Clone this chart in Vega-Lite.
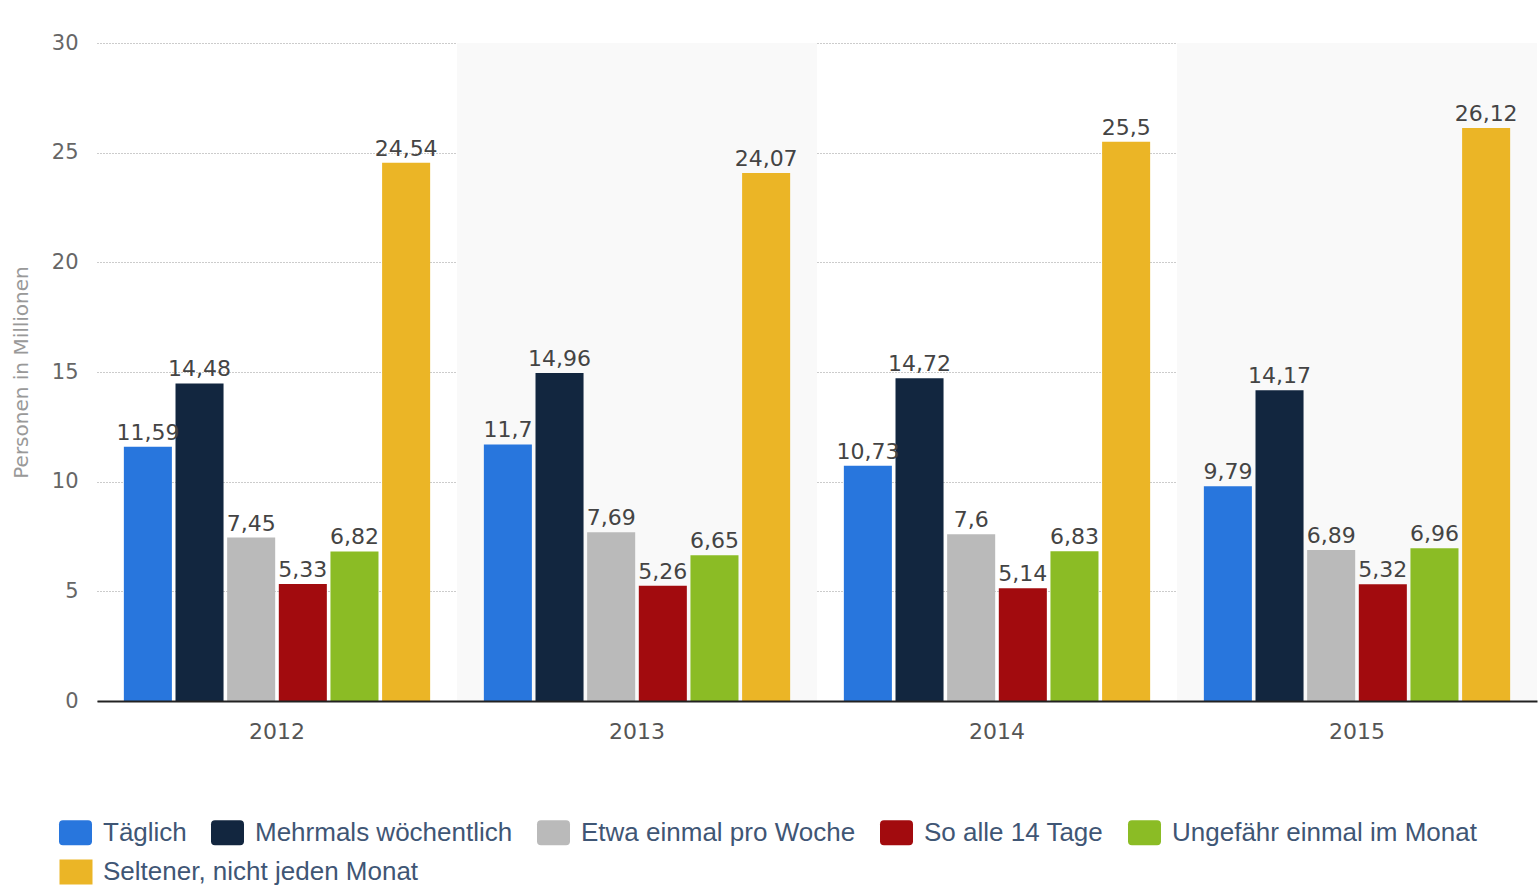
{
  "$schema": "https://vega.github.io/schema/vega-lite/v6.json",
  "width": 1440,
  "height": 658,
  "autosize": {"type": "none"},
  "padding": {"left": 97, "top": 43, "right": 3, "bottom": 185},
  "background": "#ffffff",
  "config": {
    "view": {"stroke": null},
    "font": "DejaVu Sans",
    "legend": {
      "title": null,
      "orient": "none",
      "legendX": -38,
      "direction": "horizontal",
      "columnPadding": 24,
      "symbolType": "M-0.76,-0.76 L0.76,-0.76 Q1,-0.76 1,-0.52 L1,0.52 Q1,0.76 0.76,0.76 L-0.76,0.76 Q-1,0.76 -1,0.52 L-1,-0.52 Q-1,-0.76 -0.76,-0.76 Z",
      "symbolSize": 1089,
      "symbolStrokeWidth": 0,
      "symbolOpacity": 1,
      "labelFont": "Liberation Sans",
      "labelFontSize": 26,
      "labelColor": "#3f5675",
      "labelOffset": 11,
      "labelLimit": 500
    },
    "locale": {
      "number": {"decimal": ",", "thousands": ".", "grouping": [3], "currency": ["", " €"]}
    }
  },
  "datasets": {
    "main": [
      {"year": "2012", "kategorie": "Täglich", "wert": 11.59},
      {"year": "2012", "kategorie": "Mehrmals wöchentlich", "wert": 14.48},
      {"year": "2012", "kategorie": "Etwa einmal pro Woche", "wert": 7.45},
      {"year": "2012", "kategorie": "So alle 14 Tage", "wert": 5.33},
      {"year": "2012", "kategorie": "Ungefähr einmal im Monat", "wert": 6.82},
      {"year": "2012", "kategorie": "Seltener, nicht jeden Monat", "wert": 24.54},
      {"year": "2013", "kategorie": "Täglich", "wert": 11.7},
      {"year": "2013", "kategorie": "Mehrmals wöchentlich", "wert": 14.96},
      {"year": "2013", "kategorie": "Etwa einmal pro Woche", "wert": 7.69},
      {"year": "2013", "kategorie": "So alle 14 Tage", "wert": 5.26},
      {"year": "2013", "kategorie": "Ungefähr einmal im Monat", "wert": 6.65},
      {"year": "2013", "kategorie": "Seltener, nicht jeden Monat", "wert": 24.07},
      {"year": "2014", "kategorie": "Täglich", "wert": 10.73},
      {"year": "2014", "kategorie": "Mehrmals wöchentlich", "wert": 14.72},
      {"year": "2014", "kategorie": "Etwa einmal pro Woche", "wert": 7.6},
      {"year": "2014", "kategorie": "So alle 14 Tage", "wert": 5.14},
      {"year": "2014", "kategorie": "Ungefähr einmal im Monat", "wert": 6.83},
      {"year": "2014", "kategorie": "Seltener, nicht jeden Monat", "wert": 25.5},
      {"year": "2015", "kategorie": "Täglich", "wert": 9.79},
      {"year": "2015", "kategorie": "Mehrmals wöchentlich", "wert": 14.17},
      {"year": "2015", "kategorie": "Etwa einmal pro Woche", "wert": 6.89},
      {"year": "2015", "kategorie": "So alle 14 Tage", "wert": 5.32},
      {"year": "2015", "kategorie": "Ungefähr einmal im Monat", "wert": 6.96},
      {"year": "2015", "kategorie": "Seltener, nicht jeden Monat", "wert": 26.12}
    ],
    "bands": [{"year": "2013"}, {"year": "2015"}]
  },
  "encoding": {
    "x": {
      "field": "year",
      "type": "nominal",
      "scale": {"domain": ["2012", "2013", "2014", "2015"], "paddingInner": 0, "paddingOuter": 0},
      "axis": {
        "title": null,
        "labelAngle": 0,
        "labelFontSize": 22,
        "labelColor": "#555555",
        "labelPadding": 20,
        "ticks": false,
        "domainColor": "#222222",
        "domainWidth": 2,
        "grid": false
      }
    }
  },
  "layer": [
    {
      "data": {"name": "bands"},
      "mark": {"type": "rect", "color": "#f9f9f9"}
    },
    {
      "data": {"name": "main"},
      "mark": {"type": "bar"},
      "encoding": {
        "xOffset": {
          "field": "kategorie",
          "type": "nominal",
          "sort": ["Täglich", "Mehrmals wöchentlich", "Etwa einmal pro Woche", "So alle 14 Tage", "Ungefähr einmal im Monat", "Seltener, nicht jeden Monat"],
          "scale": {"paddingInner": 0.07, "paddingOuter": 0.52}
        },
        "y": {
          "field": "wert",
          "type": "quantitative",
          "scale": {"domain": [0, 30], "nice": false},
          "axis": {
            "title": "Personen in Millionen",
            "titleFontSize": 20,
            "titleFontWeight": "normal",
            "titleColor": "#999999",
            "titlePadding": 20,
            "values": [0, 5, 10, 15, 20, 25, 30],
            "labelFontSize": 21,
            "labelColor": "#666666",
            "labelPadding": 19,
            "ticks": false,
            "domain": false,
            "gridColor": "#999999",
            "gridDash": [1, 2],
            "gridWidth": 1
          }
        },
        "color": {
          "field": "kategorie",
          "type": "nominal",
          "scale": {
            "domain": ["Täglich", "Mehrmals wöchentlich", "Etwa einmal pro Woche", "So alle 14 Tage", "Ungefähr einmal im Monat", "Seltener, nicht jeden Monat"],
            "range": ["#2876dd", "#12263f", "#bababa", "#a20b0e", "#8bbc25", "#ebb526"]
          },
          "legend": {
            "values": ["Täglich", "Mehrmals wöchentlich", "Etwa einmal pro Woche", "So alle 14 Tage", "Ungefähr einmal im Monat"],
            "legendY": 773
          }
        }
      }
    },
    {
      "data": {"name": "main"},
      "mark": {"type": "text", "baseline": "alphabetic", "dy": -7, "fontSize": 22, "color": "#444444", "strokeWidth": 0},
      "encoding": {
        "xOffset": {
          "field": "kategorie",
          "type": "nominal",
          "sort": ["Täglich", "Mehrmals wöchentlich", "Etwa einmal pro Woche", "So alle 14 Tage", "Ungefähr einmal im Monat", "Seltener, nicht jeden Monat"],
          "scale": {"paddingInner": 0.07, "paddingOuter": 0.52}
        },
        "y": {"field": "wert", "type": "quantitative"},
        "text": {"field": "wert", "type": "quantitative", "format": "~g"},
        "stroke": {
          "field": "kategorie",
          "type": "nominal",
          "scale": {
            "domain": ["Seltener, nicht jeden Monat"],
            "range": ["#ebb526"]
          },
          "legend": {
            "values": ["Seltener, nicht jeden Monat"],
            "legendX": -50,
            "legendY": 800,
            "labelOffset": -2,
            "symbolType": "M-1,0 L1,0",
            "symbolStrokeWidth": 25
          }
        }
      }
    }
  ]
}
